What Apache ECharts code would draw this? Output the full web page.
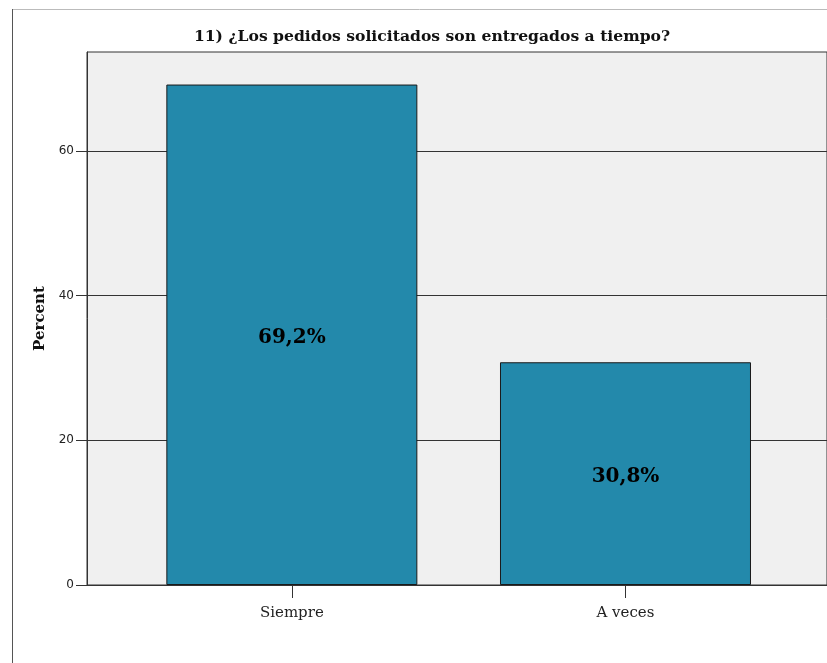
<!DOCTYPE html>
<html>
<head>
<meta charset="utf-8">
<script src="https://cdn.jsdelivr.net/npm/echarts@6/dist/echarts.min.js"></script>
<style>
  html, body { margin: 0; padding: 0; background: #fff; }
  #chart { width: 827px; height: 663px; }
</style>
</head>
<body>
<div id="chart"></div>
<script>
// datos
var categories = ['Siempre', 'A veces']
var percents = [69.2, 30.8]
var yTicks = [0, 20, 40, 60]

var chart = echarts.init(document.getElementById('chart'))
chart.setOption({
  backgroundColor: '#fff',
  animation: false,
  title: {
    text: '11) ¿Los pedidos solicitados son entregados a tiempo?',
    left: 427,
    top: 24,
    textAlign: 'center',
    textStyle: {
      fontFamily: 'DejaVu Serif',
      fontWeight: 'bold',
      fontSize: 15.6,
      color: '#111'
    }
  },
  graphic: [
    // marco exterior
    { type: 'line', shape: { x1: 12, y1: 9.5, x2: 827, y2: 9.5 }, style: { stroke: '#bbb', lineWidth: 1 } },
    { type: 'line', shape: { x1: 12.5, y1: 9, x2: 12.5, y2: 663 }, style: { stroke: '#555', lineWidth: 1 } }
  ],
  grid: {
    left: 87,
    top: 52,
    width: 743,
    height: 533,
    show: true,
    backgroundColor: '#f0f0f0',
    borderColor: '#333',
    borderWidth: 1
  },
  xAxis: {
    type: 'value',
    min: -0.614,
    max: 1.604,
    axisLine: { show: true, onZero: false, lineStyle: { color: '#333' } },
    axisTick: {
      show: true,
      customValues: [0, 1],
      length: 13,
      lineStyle: { color: '#333' }
    },
    axisLabel: {
      customValues: [0, 1],
      margin: 21,
      fontFamily: 'DejaVu Serif',
      fontSize: 15,
      color: '#222',
      formatter: function (v) { return categories[Math.round(v)] }
    },
    splitLine: { show: false }
  },
  yAxis: {
    type: 'value',
    min: 0,
    max: 73.7,
    name: 'Percent',
    nameLocation: 'middle',
    nameGap: 37,
    nameRotate: 90,
    nameTextStyle: {
      fontFamily: 'DejaVu Serif',
      fontWeight: 'bold',
      fontSize: 15,
      color: '#111'
    },
    axisLine: { show: true, onZero: false, lineStyle: { color: '#333' } },
    axisTick: {
      show: true,
      customValues: yTicks,
      length: 11,
      lineStyle: { color: '#333' }
    },
    axisLabel: {
      customValues: yTicks,
      margin: 13,
      fontFamily: 'DejaVu Sans',
      fontSize: 12,
      color: '#222'
    },
    splitLine: {
      show: true,
      lineStyle: { color: '#333', width: 1 }
    }
  },
  series: [{
    type: 'bar',
    barWidth: 251,
    data: categories.map(function (c, i) { return [i, percents[i]] }),
    itemStyle: {
      color: '#2389ab',
      borderColor: '#1a1a1a',
      borderWidth: 1
    },
    label: {
      show: true,
      position: 'inside',
      offset: [0, 3],
      fontFamily: 'DejaVu Serif',
      fontWeight: 'bold',
      fontSize: 20,
      color: '#000',
      formatter: function (p) { return p.value[1].toFixed(1).replace('.', ',') + '%' }
    }
  }]
})
</script>
</body>
</html>
